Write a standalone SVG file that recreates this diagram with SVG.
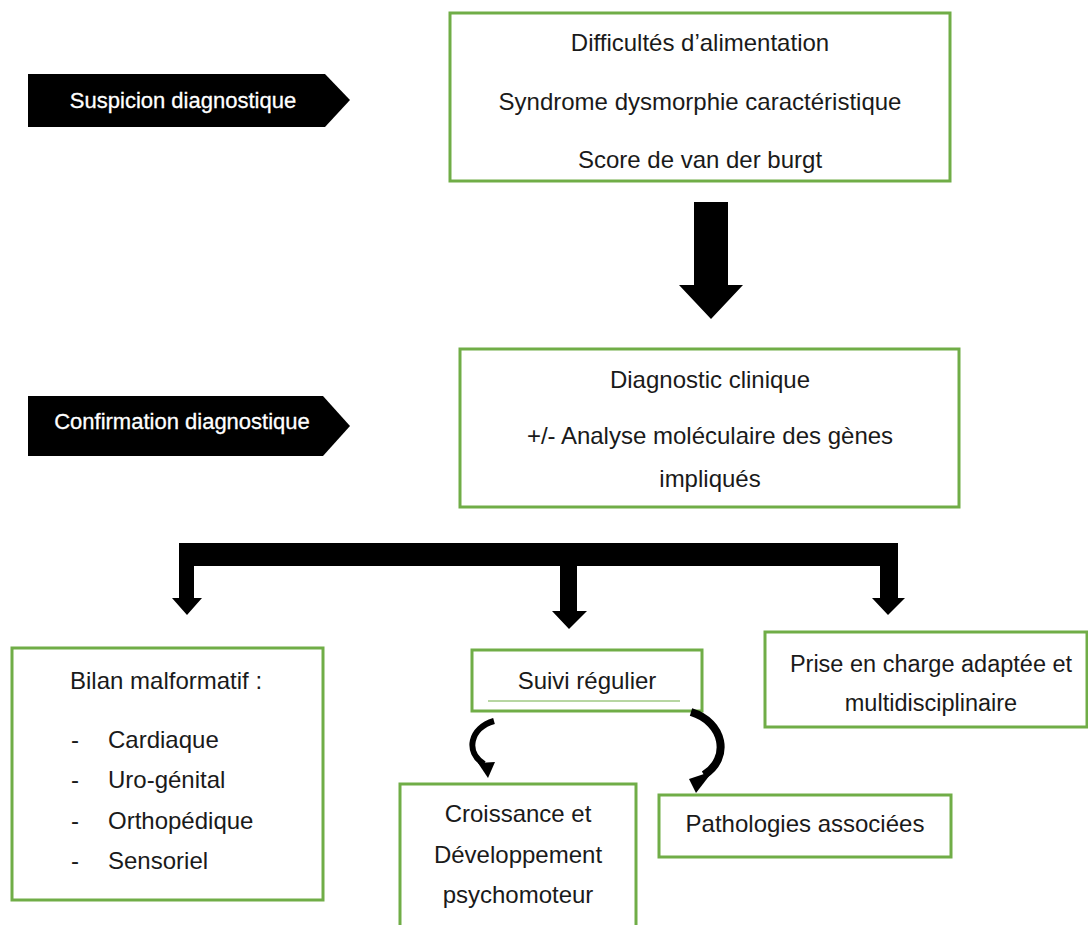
<svg xmlns="http://www.w3.org/2000/svg" width="1088" height="925" viewBox="0 0 1088 925">
  <style>
    .box { fill: #ffffff; stroke: #70AD47; stroke-width: 3; }
    .t { font-family: "Liberation Sans", Arial, sans-serif; font-size: 24px; fill: #1a1a1a; }
    .c { text-anchor: middle; }
    .tag { fill: #000000; }
    .tagtext { font-family: "Liberation Sans", Arial, sans-serif; font-size: 22px; fill: #ffffff; text-anchor: middle; stroke: #ffffff; stroke-width: 0.3; }
    .blk { fill: #000000; }
    .curve { fill: none; stroke: #000000; stroke-linecap: butt; }
  </style>
  <rect width="1088" height="925" fill="#ffffff"/>

  <!-- stage labels -->
  <g id="tag-suspicion">
    <polygon class="tag" points="28,74 325,74 350,100 325,127 28,127"/>
    <text class="tagtext" x="183" y="108">Suspicion diagnostique</text>
  </g>
  <g id="tag-confirmation">
    <polygon class="tag" points="28,396 323,396 350,426 323,456 28,456"/>
    <text class="tagtext" x="182" y="429">Confirmation diagnostique</text>
  </g>

  <!-- nodes -->
  <g id="node-suspicion">
    <rect class="box" x="450" y="13" width="500" height="168"/>
    <text class="t c" x="700" y="51">Difficultés d’alimentation</text>
    <text class="t c" x="700" y="110">Syndrome dysmorphie caractéristique</text>
    <text class="t c" x="700" y="168">Score de van der burgt</text>
  </g>
  <g id="node-diagnostic">
    <rect class="box" x="460" y="349" width="499" height="158"/>
    <text class="t c" x="710" y="388">Diagnostic clinique</text>
    <text class="t c" x="710" y="444">+/- Analyse moléculaire des gènes</text>
    <text class="t c" x="710" y="487">impliqués</text>
  </g>
  <g id="node-bilan">
    <rect class="box" x="12" y="648" width="311" height="252"/>
    <text class="t" x="70" y="689">Bilan malformatif :</text>
    <text class="t" x="71" y="748">-</text>
    <text class="t" x="108" y="748">Cardiaque</text>
    <text class="t" x="71" y="788">-</text>
    <text class="t" x="108" y="788">Uro-génital</text>
    <text class="t" x="71" y="829">-</text>
    <text class="t" x="108" y="829">Orthopédique</text>
    <text class="t" x="71" y="869">-</text>
    <text class="t" x="108" y="869">Sensoriel</text>
  </g>
  <g id="node-suivi">
    <rect class="box" x="472" y="650" width="230" height="61"/>
    <text class="t c" x="587" y="689">Suivi régulier</text>
    <line x1="488" y1="701" x2="680" y2="701" stroke="#70AD47" stroke-width="1"/>
  </g>
  <g id="node-prise">
    <rect class="box" x="765" y="632" width="322" height="95"/>
    <text class="t c" x="931" y="672" style="font-size:23.5px">Prise en charge adaptée et</text>
    <text class="t c" x="931" y="711" style="font-size:23.5px">multidisciplinaire</text>
  </g>
  <g id="node-croissance">
    <rect class="box" x="400" y="784" width="236" height="160"/>
    <text class="t c" x="518" y="822">Croissance et</text>
    <text class="t c" x="518" y="863">Développement</text>
    <text class="t c" x="518" y="903">psychomoteur</text>
  </g>
  <g id="node-pathologies">
    <rect class="box" x="659" y="795" width="292" height="62"/>
    <text class="t c" x="805" y="832">Pathologies associées</text>
  </g>

  <!-- connectors -->
  <g id="connectors">
    <!-- block arrow between the two upper stages -->
    <polygon class="blk" points="694,202 728,202 728,285 743,285 711,319 679,285 694,285"/>
    <!-- three-way branch -->
    <polygon class="blk" points="179,543 898,543 898,598 905,598 888,615 872,598 880,598 880,566 577,566 577,611 587,611 569,629 552,611 560,611 560,566 194,566 194,598 202,598 187,615 172,598 179,598"/>
    <!-- curved arrows from the follow-up box -->
    <path class="curve" stroke-width="6" d="M 494,721 C 470,728 465,752 484,764"/>
    <polygon class="blk" points="478,763 495,762 488,778"/>
    <path class="curve" stroke-width="8" d="M 691,712 C 724,722 731,758 704,775"/>
    <polygon class="blk" points="689,779 713,771 696,793"/>
  </g>
</svg>
